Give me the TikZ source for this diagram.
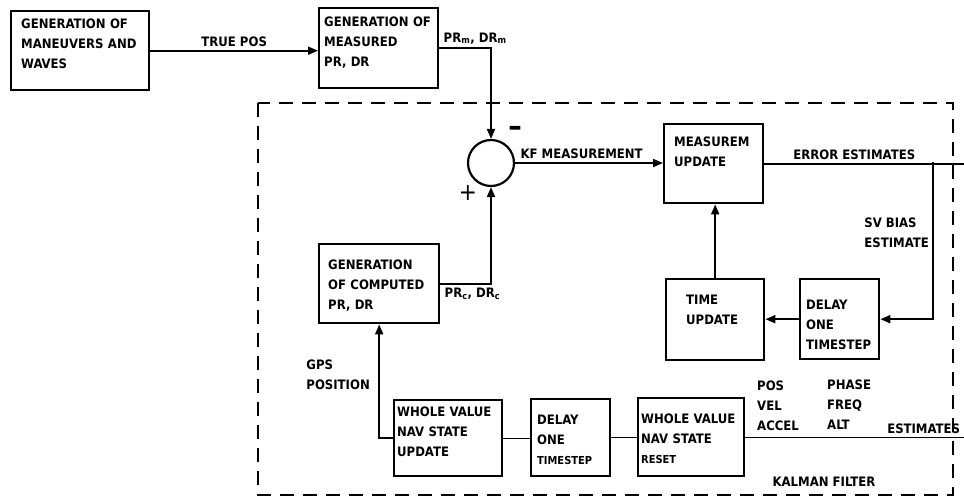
\documentclass[tikz,border=0pt]{standalone}
\usepackage{fontspec}
\setmainfont{DejaVu Sans Condensed}
\usetikzlibrary{arrows.meta,positioning,calc}
\hyphenpenalty=10000
\tikzset{
  blk/.style={draw,line width=2.4pt,anchor=north west,align=left,inner ysep=0pt},
  conn/.style={line width=1.9pt},
  thinconn/.style={line width=1.2pt},
  arr/.style={conn,-{Triangle[length=10pt,width=8pt]}},
  dashbox/.style={line width=2pt,dash pattern=on 14pt off 9pt},
  lbl/.style={align=left,inner sep=2pt}
}

\begin{document}
\begin{tikzpicture}[x=1pt,y=-1pt,font=\bfseries\fontsize{13}{20}\selectfont]
    \useasboundingbox (0,0) rectangle (964,497);
    \draw[dashbox] (258,103) rectangle (953,495);
    \node[blk,inner xsep=10pt,text width=118pt,text height=17pt,text depth=62pt] (gm) at (10,10) {GENERATION OF\\MANEUVERS~AND\\WAVES};
    \node[blk,inner xsep=5pt,text width=109pt,text height=18pt,text depth=62pt] (meas) at (318,7) {GENERATION~OF\\MEASURED\\PR, DR};
    \node[blk,inner xsep=10pt,text width=79pt,text height=22pt,text depth=57pt] (mu) at (663,123) {MEASUREM\\UPDATE};
    \node[blk,inner xsep=20pt,text width=58pt,text height=25pt,text depth=56pt] (tu) at (665,278) {TIME\\UPDATE};
    \node[blk,inner xsep=6pt,text width=67pt,text height=30pt,text depth=50pt] (dl1) at (799,278) {DELAY\\ONE\\TIMESTEP};
    \node[blk,inner xsep=9pt,text width=102pt,text height=25pt,text depth=54pt] (gc) at (318,243) {GENERATION\\OF~COMPUTED\\PR, DR};
    \node[blk,inner xsep=3pt,text width=102pt,text height=16pt,text depth=60pt] (wu) at (393,399) {WHOLE~VALUE\\NAV~STATE\\UPDATE};
    \node[blk,inner xsep=6pt,text width=67pt,text height=25pt,text depth=52pt] (dl2) at (530,398) {DELAY\\ONE\\{\fontsize{11}{20}\selectfont TIMESTEP}};
    \node[blk,inner xsep=3pt,text width=100pt,text height=25pt,text depth=53pt] (wr) at (637,397) {WHOLE~VALUE\\NAV~STATE\\{\fontsize{11}{20}\selectfont RESET}};
    \node[circle,draw,line width=2.2pt,minimum size=46pt,inner sep=0pt] (sum) at (491,163) {};
    \node[font=\bfseries\fontsize{30}{30}\selectfont] (minus) at (515,131) {–};
    \node[font=\mdseries\fontsize{24}{24}\selectfont] (plus) at (468,193) {+};
    \coordinate (errend) at (964,162);
    \coordinate (svbr) at (933,162);
    \coordinate (estend) at (964,436);
    \draw[arr] (gm.east) -- (gm.east -| meas.west) node[midway,above] {TRUE POS};
    \draw[arr] (meas.east) node[above right] {PR\textsubscript{m}, DR\textsubscript{m}} -| (sum.north);
    \draw[arr] (gc.east) node[below right] {PR\textsubscript{c}, DR\textsubscript{c}} -| (sum.south);
    \draw[arr] (sum.east) -- (sum.east -| mu.west) node[pos=0.45,above] {KF MEASUREMENT};
    \draw[conn] (mu.east) -- (mu.east -| errend) node[pos=0.45,above] {ERROR ESTIMATES};
    \draw[arr] (svbr) |- (dl1.east);
    \node[lbl,anchor=east] (svlbl) at (931,233) {SV BIAS\\ESTIMATE};
    \draw[arr] (dl1.west) -- (dl1.west -| tu.east);
    \draw[arr] (tu.north) -- (tu.north |- mu.south);
    \draw[arr] (wu.west) -| (gc.south);
    \node[lbl,anchor=east] (gpslbl) at (372,375) {GPS\\POSITION};
    \draw[thinconn] (wu.east) -- (wu.east -| dl2.west);
    \draw[thinconn] (dl2.east) -- (dl2.east -| wr.west);
    \draw[thinconn] (wr.east) -- (wr.east -| estend) node[pos=1,above left] {ESTIMATES};
    \node[lbl,anchor=north west] (pva) at (755,379) {POS\\VEL\\ACCEL};
    \node[lbl,anchor=north west] (pfa) at (825,378) {PHASE\\FREQ\\ALT};
    \node (kf) at (824,482) {KALMAN FILTER};
  \end{tikzpicture}
\end{document}
